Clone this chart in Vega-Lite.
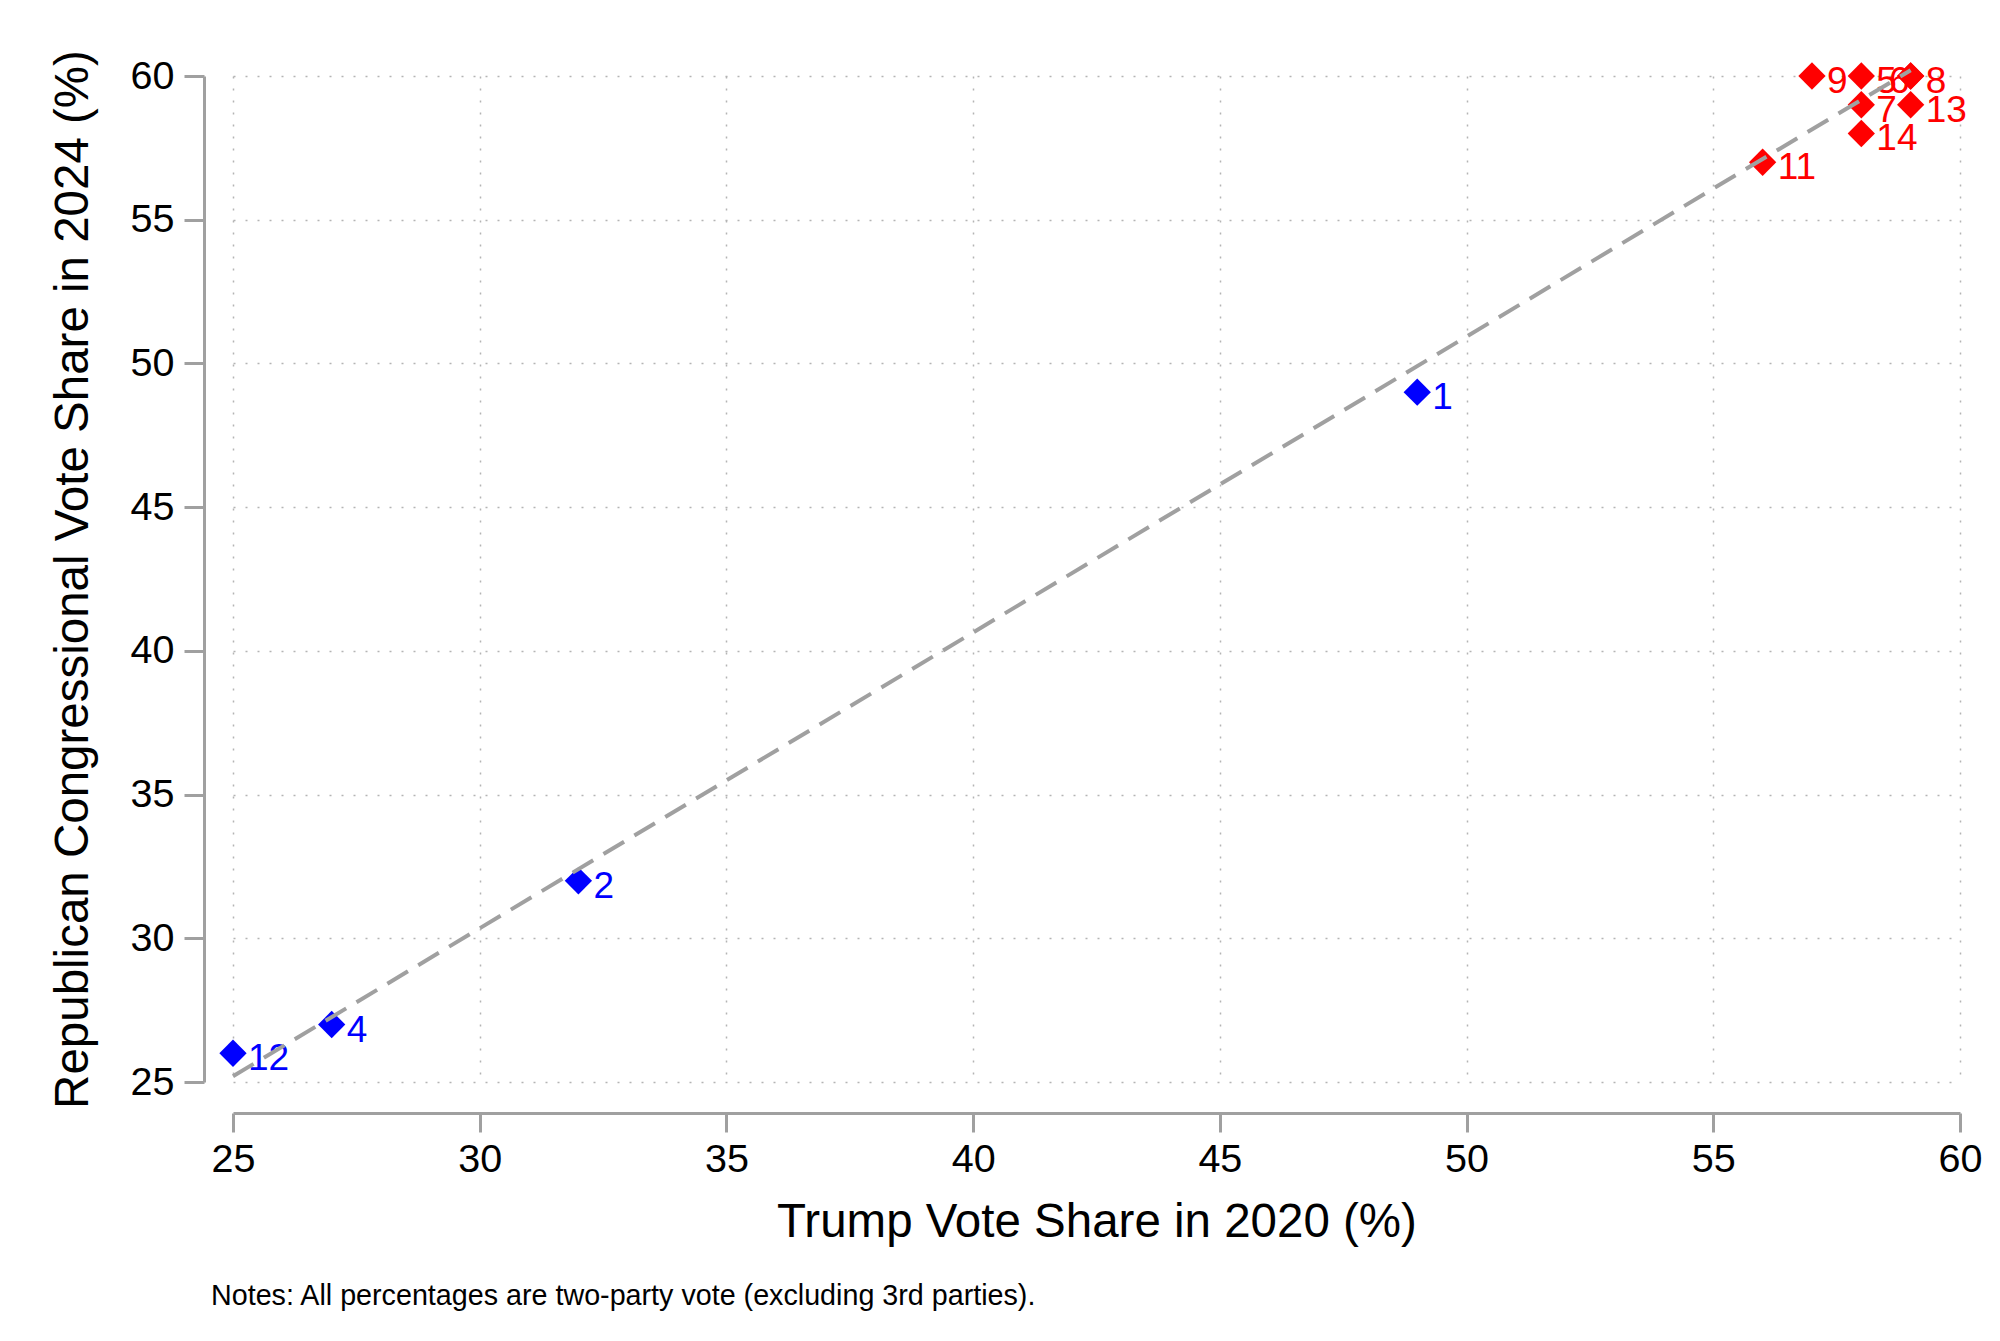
{
  "$schema": "https://vega.github.io/schema/vega-lite/v6.json",
  "width": 1727,
  "height": 1006,
  "autosize": {"type": "none"},
  "padding": {"left": 233, "top": 76, "right": 40, "bottom": 259},
  "background": "white",
  "title": {
    "text": "Notes: All percentages are two-party vote (excluding 3rd parties).",
    "orient": "bottom",
    "anchor": "start",
    "frame": "group",
    "fontSize": 28.7,
    "fontWeight": "normal",
    "font": "Liberation Sans",
    "color": "black",
    "offset": 36,
    "dx": -22
  },
  "config": {
    "font": "Liberation Sans",
    "view": {"stroke": null},
    "axis": {
      "domainColor": "#a0a0a0",
      "domainWidth": 3,
      "tickColor": "#a0a0a0",
      "tickWidth": 3,
      "labelFont": "Liberation Sans",
      "labelFontSize": 39.5,
      "labelColor": "black",
      "titleFont": "Liberation Sans",
      "titleFontSize": 47.5,
      "titleFontWeight": "normal",
      "titleColor": "black",
      "gridColor": "#b4b4b4",
      "gridDash": [2, 10],
      "gridWidth": 1.5,
      "labelFlush": false,
      "labelOverlap": false
    },
    "axisX": {"offset": 31, "tickSize": 19, "labelPadding": 8, "titlePadding": 20},
    "axisY": {"offset": 29, "tickSize": 20, "labelPadding": 10, "titlePadding": 33}
  },
  "datasets": {
    "districts": [
      {"district": 1, "trump": 49, "rep": 49, "party": "D"},
      {"district": 2, "trump": 32, "rep": 32, "party": "D"},
      {"district": 4, "trump": 27, "rep": 27, "party": "D"},
      {"district": 12, "trump": 25, "rep": 26, "party": "D"},
      {"district": 5, "trump": 58, "rep": 60, "party": "R"},
      {"district": 6, "trump": 59, "rep": 60, "party": "R"},
      {"district": 7, "trump": 58, "rep": 59, "party": "R"},
      {"district": 8, "trump": 59, "rep": 60, "party": "R"},
      {"district": 9, "trump": 57, "rep": 60, "party": "R"},
      {"district": 11, "trump": 56, "rep": 57, "party": "R"},
      {"district": 13, "trump": 59, "rep": 59, "party": "R"},
      {"district": 14, "trump": 58, "rep": 58, "party": "R"}
    ],
    "fit": [
      {"trump": 25, "rep": 25.2},
      {"trump": 59, "rep": 60.2}
    ]
  },
  "resolve": {"axis": {"x": "independent", "y": "independent"}},
  "layer": [
    {
      "data": {"name": "fit"},
      "mark": {"type": "line", "opacity": 0},
      "encoding": {
        "x": {"field": "trump", "type": "quantitative", "title": null,
              "scale": {"domain": [25, 60], "nice": false, "zero": false},
              "axis": {"orient": "bottom", "offset": 0, "grid": true, "domain": false, "ticks": false, "labels": false,
                       "values": [25, 30, 35, 40, 45, 50, 55, 60]}},
        "y": {"field": "rep", "type": "quantitative", "title": null,
              "scale": {"domain": [25, 60], "nice": false, "zero": false},
              "axis": {"orient": "left", "offset": 0, "grid": true, "domain": false, "ticks": false, "labels": false,
                       "values": [25, 30, 35, 40, 45, 50, 55, 60]}}
      }
    },
    {
      "layer": [
        {
          "data": {"name": "districts"},
          "transform": [{"filter": "datum.district != 6"}],
          "mark": {"type": "text", "align": "left", "baseline": "alphabetic", "dx": 15, "dy": 17, "fontSize": 37},
          "encoding": {
            "x": {"field": "trump", "type": "quantitative", "title": "Trump Vote Share in 2020 (%)",
                  "axis": {"orient": "bottom", "grid": false, "values": [25, 30, 35, 40, 45, 50, 55, 60]}},
            "y": {"field": "rep", "type": "quantitative", "title": "Republican Congressional Vote Share in 2024 (%)",
                  "axis": {"orient": "left", "grid": false, "values": [25, 30, 35, 40, 45, 50, 55, 60]}},
            "text": {"field": "district", "type": "nominal"},
            "color": {"field": "party", "type": "nominal", "scale": {"domain": ["D", "R"], "range": ["#0000ff", "#ff0000"]}, "legend": null}
          }
        },
        {
          "data": {"name": "districts"},
          "transform": [{"filter": "datum.district == 6"}],
          "mark": {"type": "text", "align": "right", "baseline": "alphabetic", "dx": -1, "dy": 17, "fontSize": 37},
          "encoding": {
            "x": {"field": "trump", "type": "quantitative", "title": "Trump Vote Share in 2020 (%)"},
            "y": {"field": "rep", "type": "quantitative", "title": "Republican Congressional Vote Share in 2024 (%)"},
            "text": {"field": "district", "type": "nominal"},
            "color": {"field": "party", "type": "nominal", "legend": null}
          }
        },
        {
          "data": {"name": "districts"},
          "mark": {"type": "point", "shape": "diamond", "filled": true, "size": 745, "opacity": 1},
          "encoding": {
            "x": {"field": "trump", "type": "quantitative", "title": "Trump Vote Share in 2020 (%)"},
            "y": {"field": "rep", "type": "quantitative", "title": "Republican Congressional Vote Share in 2024 (%)"},
            "color": {"field": "party", "type": "nominal", "legend": null}
          }
        },
        {
          "data": {"name": "fit"},
          "mark": {"type": "line", "color": "#a0a0a0", "strokeWidth": 4, "strokeDash": [24, 12]},
          "encoding": {
            "x": {"field": "trump", "type": "quantitative", "title": "Trump Vote Share in 2020 (%)"},
            "y": {"field": "rep", "type": "quantitative", "title": "Republican Congressional Vote Share in 2024 (%)"}
          }
        }
      ]
    }
  ]
}
